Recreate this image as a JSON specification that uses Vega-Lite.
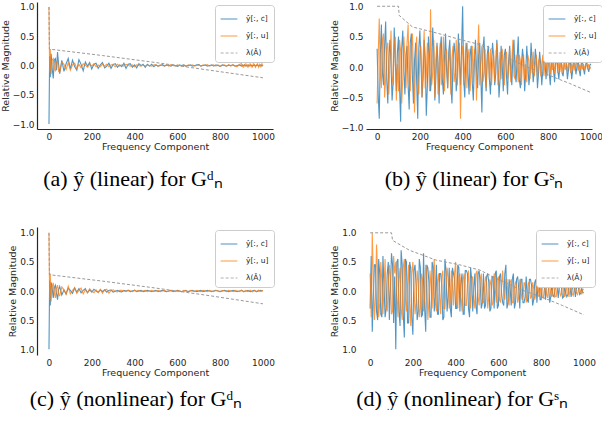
{
  "$schema": "https://vega.github.io/schema/vega-lite/v6.json",
  "background": "white",
  "padding": {"left": 0, "top": 2, "right": 0, "bottom": 0},
  "datasets": {
    "a": [
      {"x":0,"c":-1.0,"u":1.0},{"x":3,"c":0.16,"u":-0.12},{"x":6,"c":-0.2,"u":0.28},{"x":10,"c":0.2,"u":-0.15},
      {"x":15,"c":-0.05,"u":0.1},{"x":20,"c":-0.22,"u":0.12},{"x":25,"c":0.1,"u":-0.05},{"x":30,"c":0.12,"u":-0.1},
      {"x":35,"c":-0.08,"u":0.06},{"x":40,"c":0.23,"u":0.08},{"x":45,"c":0.02,"u":-0.1},{"x":50,"c":-0.14,"u":-0.12},
      {"x":60,"c":0.09,"u":0.06},{"x":70,"c":-0.1,"u":0.02},{"x":80,"c":0.03,"u":-0.07},{"x":90,"c":0.12,"u":0.05},
      {"x":100,"c":-0.06,"u":-0.08},{"x":110,"c":0.09,"u":0.01},{"x":120,"c":-0.02,"u":0.04},{"x":130,"c":-0.08,"u":-0.05},
      {"x":140,"c":0.1,"u":0.02},{"x":150,"c":0.02,"u":-0.04},{"x":160,"c":-0.09,"u":0.03},{"x":170,"c":0.06,"u":0.01},
      {"x":180,"c":-0.01,"u":-0.03},{"x":190,"c":0.05,"u":0.02},{"x":200,"c":-0.06,"u":-0.01},{"x":210,"c":0.02,"u":0.03},
      {"x":220,"c":0.04,"u":-0.02},{"x":230,"c":-0.05,"u":0.01},{"x":240,"c":0.01,"u":-0.02},{"x":250,"c":0.05,"u":0.02},
      {"x":260,"c":-0.04,"u":-0.01},{"x":270,"c":-0.01,"u":0.02},{"x":280,"c":0.04,"u":-0.02},{"x":290,"c":-0.05,"u":0.01},
      {"x":300,"c":0.02,"u":0.01},{"x":310,"c":0.03,"u":-0.02},{"x":320,"c":-0.03,"u":0.02},{"x":330,"c":0.01,"u":-0.01},
      {"x":340,"c":-0.02,"u":0.01},{"x":350,"c":0.04,"u":-0.01},{"x":360,"c":-0.05,"u":0.02},{"x":370,"c":0.02,"u":0.0},
      {"x":380,"c":0.03,"u":-0.01},{"x":390,"c":-0.03,"u":0.01},{"x":400,"c":0.01,"u":-0.02},{"x":410,"c":-0.04,"u":0.01},
      {"x":420,"c":0.03,"u":0.0},{"x":430,"c":0.0,"u":-0.01},{"x":440,"c":0.02,"u":0.01},{"x":450,"c":-0.03,"u":-0.01},
      {"x":460,"c":0.02,"u":0.01},{"x":470,"c":-0.01,"u":0.0},{"x":480,"c":0.02,"u":-0.01},{"x":490,"c":-0.02,"u":0.01},
      {"x":500,"c":0.01,"u":0.01},{"x":510,"c":-0.01,"u":-0.01},{"x":520,"c":0.0,"u":0.01},{"x":530,"c":0.015,"u":0.0},
      {"x":540,"c":-0.01,"u":-0.01},{"x":550,"c":0.01,"u":0.01},{"x":560,"c":0.0,"u":-0.01},{"x":570,"c":-0.01,"u":0.015},
      {"x":580,"c":0.01,"u":0.0},{"x":590,"c":0.0,"u":-0.01},{"x":600,"c":-0.015,"u":0.01},{"x":610,"c":0.01,"u":0.0},
      {"x":620,"c":0.0,"u":-0.01},{"x":630,"c":0.01,"u":0.01},{"x":640,"c":-0.01,"u":-0.015},{"x":650,"c":0.0,"u":0.01},
      {"x":660,"c":0.01,"u":0.0},{"x":670,"c":-0.01,"u":0.01},{"x":680,"c":0.0,"u":-0.01},{"x":690,"c":0.01,"u":0.0},
      {"x":700,"c":0.015,"u":0.01},{"x":710,"c":-0.01,"u":-0.01},{"x":720,"c":0.0,"u":0.01},{"x":730,"c":0.01,"u":0.0},
      {"x":740,"c":-0.01,"u":0.015},{"x":750,"c":0.0,"u":-0.01},{"x":760,"c":0.01,"u":0.0},{"x":770,"c":-0.01,"u":0.01},
      {"x":780,"c":0.01,"u":-0.01},{"x":790,"c":0.0,"u":0.01},{"x":800,"c":-0.015,"u":-0.015},{"x":810,"c":0.01,"u":0.0},
      {"x":820,"c":0.0,"u":0.01},{"x":830,"c":-0.01,"u":-0.01},{"x":840,"c":0.01,"u":0.01},{"x":850,"c":0.0,"u":-0.01},
      {"x":860,"c":0.01,"u":0.015},{"x":870,"c":-0.01,"u":-0.01},{"x":880,"c":0.0,"u":-0.02},{"x":890,"c":0.01,"u":0.02},
      {"x":900,"c":-0.01,"u":0.03},{"x":905,"c":0.01,"u":-0.02},{"x":910,"c":0.0,"u":-0.03},{"x":915,"c":0.01,"u":0.02},
      {"x":920,"c":-0.01,"u":0.03},{"x":925,"c":0.0,"u":-0.01},{"x":930,"c":0.01,"u":-0.03},{"x":935,"c":-0.01,"u":0.02},
      {"x":940,"c":0.0,"u":0.03},{"x":945,"c":0.01,"u":-0.02},{"x":950,"c":-0.01,"u":-0.03},{"x":955,"c":0.0,"u":0.03},
      {"x":960,"c":0.01,"u":0.02},{"x":965,"c":-0.01,"u":-0.03},{"x":970,"c":0.0,"u":0.01},{"x":975,"c":0.01,"u":0.03},
      {"x":980,"c":-0.01,"u":-0.03},{"x":985,"c":0.0,"u":0.02},{"x":990,"c":0.01,"u":-0.02},{"x":995,"c":-0.01,"u":0.03},
      {"x":1000,"c":0.0,"u":-0.01}
    ],
    "b": [
      {"x":0,"c":0.3,"u":-0.6},{"x":5,"c":-0.45,"u":0.2},{"x":10,"c":-0.85,"u":0.8},{"x":15,"c":0.2,"u":-0.1},
      {"x":20,"c":0.7,"u":-0.35},{"x":25,"c":-0.1,"u":0.45},{"x":30,"c":-0.3,"u":0.55},{"x":35,"c":0.35,"u":-0.5},
      {"x":40,"c":0.75,"u":-0.2},{"x":45,"c":-0.2,"u":0.3},{"x":50,"c":-0.6,"u":0.4},{"x":55,"c":0.15,"u":-0.45},
      {"x":60,"c":0.45,"u":0.1},{"x":65,"c":0.05,"u":0.6},{"x":70,"c":-0.55,"u":-0.15},{"x":75,"c":-0.25,"u":-0.3},
      {"x":80,"c":0.65,"u":0.35},{"x":85,"c":0.1,"u":0.5},{"x":90,"c":-0.4,"u":-0.55},{"x":95,"c":0.25,"u":0.05},
      {"x":100,"c":0.5,"u":-0.4},{"x":105,"c":-0.35,"u":0.45},{"x":110,"c":-0.9,"u":0.25},{"x":115,"c":0.3,"u":-0.6},
      {"x":120,"c":0.6,"u":-0.2},{"x":125,"c":-0.05,"u":0.5},{"x":130,"c":-0.45,"u":0.15},{"x":135,"c":0.2,"u":-0.35},
      {"x":140,"c":0.35,"u":0.4},{"x":145,"c":-0.3,"u":0.7},{"x":150,"c":-0.7,"u":-0.25},{"x":155,"c":0.4,"u":-0.4},
      {"x":160,"c":0.55,"u":0.3},{"x":165,"c":-0.15,"u":0.55},{"x":170,"c":-0.6,"u":-0.1},{"x":175,"c":0.1,"u":-0.75},
      {"x":180,"c":0.4,"u":0.2},{"x":185,"c":-0.25,"u":0.5},{"x":190,"c":-0.85,"u":-0.3},{"x":195,"c":0.3,"u":-0.45},
      {"x":200,"c":0.6,"u":0.25},{"x":205,"c":0.1,"u":0.35},{"x":210,"c":-0.5,"u":-0.5},{"x":215,"c":-0.2,"u":0.1},
      {"x":220,"c":0.45,"u":0.6},{"x":225,"c":0.15,"u":-0.35},{"x":230,"c":-0.8,"u":-0.15},{"x":235,"c":-0.3,"u":0.4},
      {"x":240,"c":0.5,"u":0.2},{"x":245,"c":0.2,"u":-0.4},{"x":250,"c":-0.4,"u":0.95},{"x":255,"c":-0.1,"u":-0.3},
      {"x":260,"c":0.65,"u":-0.1},{"x":265,"c":0.25,"u":0.45},{"x":270,"c":-0.55,"u":-0.5},{"x":275,"c":-0.15,"u":0.15},
      {"x":280,"c":0.4,"u":0.35},{"x":285,"c":0.05,"u":-0.45},{"x":290,"c":-0.6,"u":0.05},{"x":295,"c":0.3,"u":0.4},
      {"x":300,"c":0.5,"u":-0.3},{"x":305,"c":-0.2,"u":-0.1},{"x":310,"c":-0.45,"u":0.5},{"x":315,"c":0.15,"u":-0.4},
      {"x":320,"c":0.55,"u":0.2},{"x":325,"c":-0.05,"u":0.3},{"x":330,"c":-0.35,"u":-0.35},{"x":335,"c":0.25,"u":0.1},
      {"x":340,"c":0.45,"u":0.3},{"x":345,"c":-0.3,"u":-0.45},{"x":350,"c":-0.6,"u":0.15},{"x":355,"c":0.1,"u":0.35},
      {"x":360,"c":0.4,"u":-0.25},{"x":365,"c":0.2,"u":-0.1},{"x":370,"c":-0.4,"u":0.45},{"x":375,"c":-0.15,"u":-0.3},
      {"x":380,"c":0.55,"u":0.1},{"x":385,"c":0.1,"u":0.4},{"x":390,"c":-0.3,"u":-0.85},{"x":395,"c":0.3,"u":0.2},
      {"x":400,"c":1.0,"u":0.35},{"x":405,"c":-0.2,"u":-0.3},{"x":410,"c":-0.5,"u":0.05},{"x":415,"c":0.25,"u":0.4},
      {"x":420,"c":0.4,"u":-0.35},{"x":425,"c":-0.1,"u":0.15},{"x":430,"c":-0.45,"u":0.3},{"x":435,"c":0.2,"u":-0.4},
      {"x":440,"c":0.35,"u":-0.05},{"x":445,"c":-0.25,"u":0.35},{"x":450,"c":-0.55,"u":-0.25},{"x":455,"c":0.1,"u":0.3},
      {"x":460,"c":0.45,"u":0.1},{"x":465,"c":-0.05,"u":-0.55},{"x":470,"c":-0.35,"u":0.2},{"x":475,"c":0.2,"u":0.7},
      {"x":480,"c":0.4,"u":-0.3},{"x":485,"c":-0.15,"u":0.05},{"x":490,"c":-0.75,"u":0.35},{"x":495,"c":0.3,"u":-0.25},
      {"x":500,"c":0.5,"u":-0.1},{"x":505,"c":-0.1,"u":0.3},{"x":510,"c":-0.4,"u":-0.35},{"x":515,"c":0.2,"u":0.1},
      {"x":520,"c":0.35,"u":0.25},{"x":525,"c":-0.2,"u":-0.2},{"x":530,"c":-0.45,"u":0.3},{"x":535,"c":0.05,"u":-0.3},
      {"x":540,"c":0.4,"u":0.05},{"x":545,"c":0.15,"u":0.25},{"x":550,"c":-0.3,"u":-0.25},{"x":555,"c":-0.1,"u":0.15},
      {"x":560,"c":0.45,"u":0.4},{"x":565,"c":0.1,"u":-0.3},{"x":570,"c":-0.5,"u":-0.05},{"x":575,"c":-0.2,"u":0.25},
      {"x":580,"c":0.35,"u":-0.2},{"x":585,"c":0.05,"u":0.3},{"x":590,"c":-0.4,"u":0.1},{"x":595,"c":0.2,"u":-0.3},
      {"x":600,"c":0.3,"u":0.2},{"x":605,"c":-0.15,"u":0.25},{"x":610,"c":-0.45,"u":-0.2},{"x":615,"c":0.1,"u":-0.05},
      {"x":620,"c":0.35,"u":0.3},{"x":625,"c":-0.05,"u":-0.25},{"x":630,"c":-0.3,"u":0.1},{"x":635,"c":0.2,"u":0.45},
      {"x":640,"c":0.45,"u":-0.15},{"x":645,"c":-0.1,"u":-0.2},{"x":650,"c":-0.25,"u":0.2},{"x":655,"c":0.15,"u":0.05},
      {"x":660,"c":0.5,"u":-0.25},{"x":665,"c":-0.2,"u":0.2},{"x":670,"c":-0.35,"u":0.1},{"x":675,"c":0.05,"u":-0.3},
      {"x":680,"c":0.3,"u":0.15},{"x":685,"c":0.1,"u":0.2},{"x":690,"c":-0.4,"u":-0.2},{"x":695,"c":-0.1,"u":0.05},
      {"x":700,"c":0.35,"u":-0.25},{"x":705,"c":0.05,"u":0.2},{"x":710,"c":-0.3,"u":0.1},{"x":715,"c":-0.1,"u":-0.2},
      {"x":720,"c":0.4,"u":0.15},{"x":725,"c":0.1,"u":-0.1},{"x":730,"c":-0.25,"u":0.25},{"x":735,"c":-0.05,"u":-0.15},
      {"x":740,"c":0.3,"u":0.05},{"x":745,"c":0.1,"u":0.2},{"x":750,"c":-0.35,"u":-0.18},{"x":755,"c":-0.1,"u":0.1},
      {"x":760,"c":0.25,"u":0.15},{"x":765,"c":0.05,"u":-0.15},{"x":770,"c":-0.3,"u":0.05},{"x":775,"c":-0.05,"u":0.2},
      {"x":780,"c":0.3,"u":-0.15},{"x":785,"c":0.1,"u":0.08},{"x":790,"c":-0.2,"u":0.12},{"x":795,"c":0.05,"u":-0.15},
      {"x":800,"c":0.25,"u":0.05},{"x":805,"c":-0.1,"u":0.12},{"x":810,"c":-0.3,"u":-0.12},{"x":815,"c":0.05,"u":0.1},
      {"x":820,"c":0.2,"u":-0.05},{"x":825,"c":-0.05,"u":0.15},{"x":830,"c":-0.25,"u":-0.1},{"x":835,"c":0.1,"u":0.05},
      {"x":840,"c":0.3,"u":0.12},{"x":845,"c":-0.05,"u":-0.1},{"x":850,"c":-0.2,"u":0.08},{"x":855,"c":0.05,"u":-0.08},
      {"x":860,"c":0.2,"u":0.1},{"x":865,"c":-0.1,"u":0.03},{"x":870,"c":-0.15,"u":-0.1},{"x":875,"c":0.05,"u":0.08},
      {"x":880,"c":0.2,"u":-0.05},{"x":885,"c":0.05,"u":0.1},{"x":890,"c":-0.2,"u":-0.08},{"x":895,"c":-0.05,"u":0.05},
      {"x":900,"c":0.15,"u":0.08},{"x":905,"c":0.05,"u":-0.1},{"x":910,"c":-0.2,"u":0.06},{"x":915,"c":-0.05,"u":-0.05},
      {"x":920,"c":0.18,"u":0.08},{"x":925,"c":0.05,"u":-0.06},{"x":930,"c":-0.12,"u":0.05},{"x":935,"c":0.02,"u":0.07},
      {"x":940,"c":0.15,"u":-0.06},{"x":945,"c":-0.05,"u":0.04},{"x":950,"c":-0.15,"u":-0.05},{"x":955,"c":0.05,"u":0.06},
      {"x":960,"c":0.1,"u":-0.04},{"x":965,"c":-0.03,"u":0.05},{"x":970,"c":-0.12,"u":-0.05},{"x":975,"c":0.03,"u":0.04},
      {"x":980,"c":0.1,"u":0.03},{"x":985,"c":-0.02,"u":-0.04},{"x":990,"c":-0.08,"u":0.05},{"x":995,"c":0.03,"u":-0.03},
      {"x":1000,"c":0.05,"u":0.0}
    ],
    "c": [
      {"x":0,"c":-1.0,"u":1.0},{"x":3,"c":0.18,"u":-0.15},{"x":6,"c":-0.25,"u":0.3},{"x":10,"c":0.15,"u":-0.18},
      {"x":15,"c":0.05,"u":0.08},{"x":20,"c":-0.12,"u":0.14},{"x":25,"c":0.06,"u":-0.04},{"x":30,"c":0.1,"u":-0.12},
      {"x":35,"c":-0.04,"u":0.05},{"x":40,"c":-0.15,"u":0.1},{"x":45,"c":0.03,"u":-0.06},{"x":50,"c":0.08,"u":-0.08},
      {"x":60,"c":-0.07,"u":0.07},{"x":70,"c":0.02,"u":0.02},{"x":80,"c":-0.05,"u":-0.06},{"x":90,"c":0.05,"u":0.08},
      {"x":100,"c":0.01,"u":-0.05},{"x":110,"c":-0.04,"u":0.01},{"x":120,"c":0.05,"u":0.06},{"x":130,"c":-0.02,"u":-0.04},
      {"x":140,"c":0.04,"u":0.01},{"x":150,"c":-0.03,"u":0.05},{"x":160,"c":0.01,"u":-0.05},{"x":170,"c":0.04,"u":0.02},
      {"x":180,"c":-0.03,"u":-0.03},{"x":190,"c":0.02,"u":0.04},{"x":200,"c":-0.02,"u":0.0},{"x":210,"c":0.03,"u":-0.03},
      {"x":220,"c":0.0,"u":0.02},{"x":230,"c":-0.02,"u":-0.03},{"x":240,"c":0.02,"u":0.03},{"x":250,"c":-0.01,"u":-0.04},
      {"x":260,"c":0.02,"u":0.02},{"x":270,"c":-0.02,"u":0.03},{"x":280,"c":0.01,"u":-0.04},{"x":290,"c":0.02,"u":0.01},
      {"x":300,"c":-0.02,"u":0.02},{"x":310,"c":0.0,"u":-0.01},{"x":320,"c":0.01,"u":-0.015},{"x":330,"c":-0.01,"u":0.01},
      {"x":340,"c":-0.015,"u":0.01},{"x":350,"c":0.01,"u":0.0},{"x":360,"c":0.0,"u":-0.01},{"x":370,"c":0.01,"u":0.015},
      {"x":380,"c":-0.01,"u":0.0},{"x":390,"c":0.0,"u":-0.01},{"x":400,"c":0.015,"u":0.01},{"x":410,"c":-0.01,"u":0.0},
      {"x":420,"c":0.0,"u":0.01},{"x":430,"c":0.01,"u":-0.01},{"x":440,"c":-0.01,"u":0.0},{"x":450,"c":0.0,"u":0.01},
      {"x":460,"c":0.01,"u":-0.01},{"x":470,"c":0.0,"u":0.0},{"x":480,"c":-0.01,"u":0.01},{"x":490,"c":0.0,"u":-0.01},
      {"x":500,"c":0.01,"u":0.0},{"x":510,"c":-0.01,"u":0.01},{"x":520,"c":0.0,"u":-0.01},{"x":530,"c":0.01,"u":0.0},
      {"x":540,"c":0.0,"u":0.01},{"x":550,"c":-0.01,"u":-0.01},{"x":560,"c":0.0,"u":0.0},{"x":570,"c":0.01,"u":0.01},
      {"x":580,"c":-0.01,"u":0.0},{"x":590,"c":0.0,"u":-0.01},{"x":600,"c":0.01,"u":0.01},{"x":610,"c":0.0,"u":0.0},
      {"x":620,"c":-0.01,"u":-0.01},{"x":630,"c":0.0,"u":0.01},{"x":640,"c":0.01,"u":0.0},{"x":650,"c":-0.01,"u":-0.01},
      {"x":660,"c":0.0,"u":0.01},{"x":670,"c":0.01,"u":0.0},{"x":680,"c":0.0,"u":-0.01},{"x":690,"c":-0.01,"u":0.01},
      {"x":700,"c":0.0,"u":0.0},{"x":710,"c":0.01,"u":-0.01},{"x":720,"c":-0.01,"u":0.01},{"x":730,"c":0.0,"u":0.0},
      {"x":740,"c":0.01,"u":-0.01},{"x":750,"c":0.0,"u":0.01},{"x":760,"c":-0.01,"u":0.0},{"x":770,"c":0.0,"u":-0.01},
      {"x":780,"c":0.01,"u":0.01},{"x":790,"c":0.0,"u":0.0},{"x":800,"c":-0.01,"u":-0.01},{"x":810,"c":0.0,"u":0.01},
      {"x":820,"c":0.01,"u":0.0},{"x":830,"c":0.0,"u":-0.01},{"x":840,"c":-0.01,"u":0.01},{"x":850,"c":0.0,"u":0.0},
      {"x":860,"c":0.01,"u":-0.01},{"x":870,"c":0.0,"u":0.01},{"x":880,"c":-0.01,"u":0.0},{"x":890,"c":0.0,"u":-0.01},
      {"x":900,"c":0.01,"u":0.015},{"x":910,"c":-0.01,"u":-0.015},{"x":920,"c":0.0,"u":0.01},{"x":930,"c":0.01,"u":-0.01},
      {"x":940,"c":-0.01,"u":0.015},{"x":950,"c":0.0,"u":-0.015},{"x":960,"c":0.01,"u":0.01},{"x":970,"c":-0.01,"u":-0.01},
      {"x":980,"c":0.0,"u":0.015},{"x":990,"c":0.01,"u":-0.01},{"x":1000,"c":0.0,"u":0.01}
    ],
    "d": [
      {"x":0,"c":-0.3,"u":0.3},{"x":5,"c":0.6,"u":-0.45},{"x":10,"c":-0.7,"u":1.0},{"x":15,"c":-0.1,"u":0.2},
      {"x":20,"c":0.45,"u":-0.5},{"x":25,"c":0.45,"u":-0.1},{"x":30,"c":-0.35,"u":0.8},{"x":35,"c":-0.5,"u":0.35},
      {"x":40,"c":0.55,"u":-0.45},{"x":45,"c":0.3,"u":-0.2},{"x":50,"c":-0.4,"u":0.5},{"x":55,"c":-0.45,"u":0.15},
      {"x":60,"c":0.6,"u":-0.4},{"x":65,"c":0.1,"u":0.05},{"x":70,"c":-0.45,"u":0.55},{"x":75,"c":-0.3,"u":-0.25},
      {"x":80,"c":0.3,"u":-0.35},{"x":85,"c":0.5,"u":0.1},{"x":90,"c":-0.5,"u":0.45},{"x":95,"c":0.05,"u":0.25},
      {"x":100,"c":0.65,"u":-0.4},{"x":105,"c":0.45,"u":-0.35},{"x":110,"c":-0.55,"u":0.6},{"x":115,"c":0.25,"u":0.3},
      {"x":120,"c":-1.0,"u":0.5},{"x":125,"c":0.5,"u":-0.05},{"x":130,"c":0.55,"u":-0.45},{"x":135,"c":-0.35,"u":0.2},
      {"x":140,"c":-0.6,"u":0.4},{"x":145,"c":0.7,"u":-0.3},{"x":150,"c":0.45,"u":-0.5},{"x":155,"c":-0.4,"u":0.4},
      {"x":160,"c":-0.8,"u":0.55},{"x":165,"c":0.55,"u":-0.15},{"x":170,"c":0.5,"u":-0.35},{"x":175,"c":-0.55,"u":0.1},
      {"x":180,"c":-0.55,"u":0.45},{"x":185,"c":0.5,"u":-0.25},{"x":190,"c":0.4,"u":-0.6},{"x":195,"c":-0.45,"u":0.3},
      {"x":200,"c":-0.75,"u":0.5},{"x":205,"c":0.35,"u":0.1},{"x":210,"c":0.45,"u":-0.4},{"x":215,"c":0.1,"u":-0.2},
      {"x":220,"c":-0.5,"u":0.35},{"x":225,"c":-0.35,"u":0.15},{"x":230,"c":0.55,"u":-0.45},{"x":235,"c":0.4,"u":-0.3},
      {"x":240,"c":-0.45,"u":0.3},{"x":245,"c":-0.4,"u":0.2},{"x":250,"c":0.65,"u":-0.35},{"x":255,"c":-0.3,"u":-0.1},
      {"x":260,"c":-0.7,"u":0.45},{"x":265,"c":0.45,"u":0.25},{"x":270,"c":0.4,"u":-0.5},{"x":275,"c":0.15,"u":-0.15},
      {"x":280,"c":-0.45,"u":0.35},{"x":285,"c":-0.45,"u":0.05},{"x":290,"c":0.5,"u":-0.3},{"x":295,"c":0.4,"u":0.3},
      {"x":300,"c":-0.35,"u":0.55},{"x":305,"c":-0.1,"u":-0.2},{"x":310,"c":0.45,"u":-0.35},{"x":315,"c":-0.4,"u":0.15},
      {"x":320,"c":-0.4,"u":0.3},{"x":325,"c":0.3,"u":-0.05},{"x":330,"c":0.3,"u":-0.4},{"x":335,"c":0.1,"u":0.25},
      {"x":340,"c":-0.5,"u":0.35},{"x":345,"c":-0.45,"u":-0.3},{"x":350,"c":0.55,"u":-0.3},{"x":355,"c":0.35,"u":0.1},
      {"x":360,"c":-0.35,"u":0.4},{"x":365,"c":-0.1,"u":0.2},{"x":370,"c":0.4,"u":-0.3},{"x":375,"c":-0.3,"u":-0.15},
      {"x":380,"c":-0.45,"u":0.35},{"x":385,"c":0.4,"u":0.1},{"x":390,"c":0.3,"u":-0.25},{"x":395,"c":0.2,"u":0.3},
      {"x":400,"c":-0.3,"u":0.5},{"x":405,"c":-0.3,"u":-0.2},{"x":410,"c":0.45,"u":-0.3},{"x":415,"c":0.4,"u":0.25},
      {"x":420,"c":-0.35,"u":0.3},{"x":425,"c":0.15,"u":-0.1},{"x":430,"c":0.3,"u":-0.35},{"x":435,"c":-0.4,"u":0.2},
      {"x":440,"c":-0.4,"u":0.3},{"x":445,"c":0.35,"u":-0.25},{"x":450,"c":0.35,"u":-0.25},{"x":455,"c":0.3,"u":0.1},
      {"x":460,"c":-0.3,"u":0.35},{"x":465,"c":-0.45,"u":-0.05},{"x":470,"c":0.4,"u":-0.3},{"x":475,"c":0.2,"u":0.2},
      {"x":480,"c":-0.35,"u":0.25},{"x":485,"c":0.05,"u":-0.15},{"x":490,"c":0.3,"u":-0.3},{"x":495,"c":-0.25,"u":0.3},
      {"x":500,"c":-0.4,"u":0.35},{"x":505,"c":0.3,"u":-0.1},{"x":510,"c":0.35,"u":-0.25},{"x":515,"c":0.1,"u":0.2},
      {"x":520,"c":-0.3,"u":0.3},{"x":525,"c":-0.2,"u":-0.2},{"x":530,"c":0.3,"u":-0.2},{"x":535,"c":-0.3,"u":0.05},
      {"x":540,"c":-0.25,"u":0.25},{"x":545,"c":0.25,"u":0.15},{"x":550,"c":0.3,"u":-0.3},{"x":555,"c":0.15,"u":-0.1},
      {"x":560,"c":-0.35,"u":0.2},{"x":565,"c":-0.3,"u":0.1},{"x":570,"c":0.25,"u":-0.25},{"x":575,"c":0.25,"u":-0.2},
      {"x":580,"c":-0.3,"u":0.3},{"x":585,"c":0.3,"u":0.05},{"x":590,"c":0.35,"u":-0.2},{"x":595,"c":-0.3,"u":0.2},
      {"x":600,"c":-0.25,"u":0.25},{"x":605,"c":0.25,"u":-0.15},{"x":610,"c":0.3,"u":-0.2},{"x":615,"c":-0.05,"u":0.1},
      {"x":620,"c":-0.2,"u":0.35},{"x":625,"c":-0.25,"u":-0.05},{"x":630,"c":0.3,"u":-0.15},{"x":635,"c":0.45,"u":0.2},
      {"x":640,"c":-0.3,"u":0.2},{"x":645,"c":-0.2,"u":-0.1},{"x":650,"c":0.2,"u":-0.25},{"x":655,"c":0.05,"u":0.15},
      {"x":660,"c":-0.25,"u":0.2},{"x":665,"c":0.2,"u":-0.2},{"x":670,"c":0.3,"u":-0.2},{"x":675,"c":-0.3,"u":0.05},
      {"x":680,"c":-0.2,"u":0.15},{"x":685,"c":0.2,"u":0.1},{"x":690,"c":0.25,"u":-0.2},{"x":695,"c":0.05,"u":-0.1},
      {"x":700,"c":-0.3,"u":0.2},{"x":705,"c":0.2,"u":0.05},{"x":710,"c":0.2,"u":-0.15},{"x":715,"c":-0.2,"u":-0.1},
      {"x":720,"c":-0.2,"u":0.15},{"x":725,"c":-0.1,"u":0.1},{"x":730,"c":0.25,"u":-0.2},{"x":735,"c":-0.15,"u":-0.05},
      {"x":740,"c":-0.2,"u":0.15},{"x":745,"c":0.2,"u":0.1},{"x":750,"c":0.2,"u":-0.12},{"x":755,"c":0.1,"u":-0.1},
      {"x":760,"c":-0.25,"u":0.15},{"x":765,"c":-0.15,"u":0.05},{"x":770,"c":0.15,"u":-0.15},{"x":775,"c":0.2,"u":-0.05},
      {"x":780,"c":-0.2,"u":0.12},{"x":785,"c":0.08,"u":0.1},{"x":790,"c":0.25,"u":-0.1},{"x":795,"c":-0.15,"u":-0.05},
      {"x":800,"c":-0.15,"u":0.15},{"x":805,"c":0.12,"u":-0.1},{"x":810,"c":0.2,"u":-0.12},{"x":815,"c":0.1,"u":0.05},
      {"x":820,"c":-0.15,"u":0.1},{"x":825,"c":0.15,"u":-0.05},{"x":830,"c":0.15,"u":-0.12},{"x":835,"c":0.05,"u":0.1},
      {"x":840,"c":-0.2,"u":0.1},{"x":845,"c":-0.1,"u":-0.05},{"x":850,"c":0.15,"u":-0.1},{"x":855,"c":-0.08,"u":0.05},
      {"x":860,"c":-0.1,"u":0.12},{"x":865,"c":0.03,"u":-0.1},{"x":870,"c":0.15,"u":-0.1},{"x":875,"c":0.08,"u":0.05},
      {"x":880,"c":-0.12,"u":0.1},{"x":885,"c":0.1,"u":0.05},{"x":890,"c":0.1,"u":-0.08},{"x":895,"c":0.05,"u":-0.05},
      {"x":900,"c":-0.12,"u":0.1},{"x":905,"c":-0.1,"u":0.05},{"x":910,"c":0.1,"u":-0.1},{"x":915,"c":-0.05,"u":-0.05},
      {"x":920,"c":-0.1,"u":0.08},{"x":925,"c":-0.06,"u":0.05},{"x":930,"c":0.12,"u":-0.1},{"x":935,"c":0.07,"u":0.02},
      {"x":940,"c":-0.1,"u":0.08},{"x":945,"c":0.04,"u":-0.05},{"x":950,"c":0.08,"u":-0.08},{"x":955,"c":0.06,"u":0.05},
      {"x":960,"c":-0.1,"u":0.06},{"x":965,"c":0.05,"u":-0.03},{"x":970,"c":0.08,"u":-0.06},{"x":975,"c":0.04,"u":0.03},
      {"x":980,"c":-0.06,"u":0.05},{"x":985,"c":-0.04,"u":-0.02},{"x":990,"c":0.05,"u":-0.05},{"x":995,"c":-0.03,"u":0.03},
      {"x":1000,"c":-0.03,"u":0.03}
    ],
    "la": [
      {"x":0,"l":1.0},{"x":2,"l":0.28},{"x":250,"l":0.17},{"x":500,"l":0.05},{"x":750,"l":-0.08},{"x":1000,"l":-0.21}
    ],
    "lc": [
      {"x":0,"l":1.0},{"x":2,"l":0.28},{"x":250,"l":0.17},{"x":500,"l":0.05},{"x":750,"l":-0.08},{"x":1000,"l":-0.22}
    ],
    "lb": [
      {"x":0,"l":1.0},{"x":100,"l":1.0},{"x":103,"l":0.85},{"x":165,"l":0.66},{"x":278,"l":0.56},{"x":401,"l":0.44},
      {"x":514,"l":0.34},{"x":600,"l":0.17},{"x":700,"l":0.0},{"x":800,"l":-0.13},{"x":900,"l":-0.27},{"x":1000,"l":-0.42}
    ],
    "ld": [
      {"x":0,"l":1.0},{"x":100,"l":1.0},{"x":105,"l":0.87},{"x":184,"l":0.7},{"x":309,"l":0.53},{"x":419,"l":0.45},
      {"x":513,"l":0.36},{"x":600,"l":0.2},{"x":700,"l":0.03},{"x":800,"l":-0.1},{"x":900,"l":-0.25},{"x":1000,"l":-0.41}
    ]
  },
  "vconcat": [
    {
      "hconcat": [
        {
          "width": 236, "height": 127,
          "title": {"text": "(a) ŷ (linear) for Gᵈₙ", "orient": "bottom", "frame": "group", "dx": -22, "offset": 18},
          "encoding": {
            "x": {"field": "x", "type": "quantitative", "scale": {"domain": [-56, 1047], "nice": false, "zero": false}, "axis": {"title": "Frequency Component", "values": [0, 200, 400, 600, 800, 1000], "tickCount": 6, "format": "d"}},
            "y": {"field": "v", "type": "quantitative", "scale": {"domain": [-1.085, 1.085], "nice": false}, "axis": {"title": "Relative Magnitude", "values": [-1, -0.5, 0, 0.5, 1], "tickCount": 5, "tickMinStep": 0.5, "format": ".1f"}},
            "color": {"field": "s", "type": "nominal", "scale": {"domain": ["c", "u", "l"], "range": ["#1f77b4", "#ff7f0e", "#999999"]}, "legend": {"orient": "none", "legendX": 178, "legendY": 3, "title": null, "labelExpr": "datum.label == 'c' ? 'ŷ[:, c]' : datum.label == 'u' ? 'ŷ[:, u]' : 'λ(Â)'"}},
            "strokeDash": {"field": "s", "type": "nominal", "scale": {"domain": ["c", "u", "l"], "range": [[1, 0], [1, 0], [3, 2]]}, "legend": {"orient": "none", "legendX": 178, "legendY": 3, "title": null, "labelExpr": "datum.label == 'c' ? 'ŷ[:, c]' : datum.label == 'u' ? 'ŷ[:, u]' : 'λ(Â)'"}}
          },
          "layer": [
            {
              "data": {"name": "a"},
              "transform": [{"fold": ["c", "u"], "as": ["s", "v"]}],
              "mark": {"type": "line", "strokeWidth": 1.1, "opacity": 0.78}
            },
            {
              "data": {"name": "la"},
              "transform": [{"fold": ["l"], "as": ["s", "v"]}],
              "mark": {"type": "line", "strokeWidth": 1}
            }
          ]
        },
        {
          "width": 226, "height": 127,
          "title": {"text": "(b) ŷ (linear) for Gˢₙ", "orient": "bottom", "frame": "group", "dx": -5, "offset": 18},
          "encoding": {
            "x": {"field": "x", "type": "quantitative", "scale": {"domain": [-52, 1005], "nice": false, "zero": false}, "axis": {"title": "Frequency Component", "values": [0, 200, 400, 600, 800, 1000], "tickCount": 6, "format": "d"}},
            "y": {"field": "v", "type": "quantitative", "scale": {"domain": [-1.02, 1.07], "nice": false}, "axis": {"title": "Relative Magnitude", "values": [-1, -0.5, 0, 0.5, 1], "tickCount": 5, "tickMinStep": 0.5, "format": ".1f", "domain": false}},
            "color": {"field": "s", "type": "nominal", "scale": {"domain": ["c", "u", "l"], "range": ["#1f77b4", "#ff7f0e", "#999999"]}, "legend": {"orient": "none", "legendX": 177, "legendY": 3, "title": null, "labelExpr": "datum.label == 'c' ? 'ŷ[:, c]' : datum.label == 'u' ? 'ŷ[:, u]' : 'λ(Â)'"}},
            "strokeDash": {"field": "s", "type": "nominal", "scale": {"domain": ["c", "u", "l"], "range": [[1, 0], [1, 0], [3, 2]]}, "legend": {"orient": "none", "legendX": 177, "legendY": 3, "title": null, "labelExpr": "datum.label == 'c' ? 'ŷ[:, c]' : datum.label == 'u' ? 'ŷ[:, u]' : 'λ(Â)'"}}
          },
          "layer": [
            {
              "data": {"name": "b"},
              "transform": [{"fold": ["c", "u"], "as": ["s", "v"]}],
              "mark": {"type": "line", "strokeWidth": 1.1, "opacity": 0.78}
            },
            {
              "data": {"name": "lb"},
              "transform": [{"fold": ["l"], "as": ["s", "v"]}],
              "mark": {"type": "line", "strokeWidth": 1}
            }
          ]
        }
      ],
      "spacing": 54,
      "resolve": {"scale": {"x": "independent", "y": "independent", "color": "independent", "strokeDash": "independent"}, "legend": {"color": "independent", "strokeDash": "independent"}}
    },
    {
      "hconcat": [
        {
          "width": 236, "height": 128,
          "title": {"text": "(c) ŷ (nonlinear) for Gᵈₙ", "orient": "bottom", "frame": "group", "dx": -19, "offset": 12},
          "encoding": {
            "x": {"field": "x", "type": "quantitative", "scale": {"domain": [-56, 1047], "nice": false, "zero": false}, "axis": {"title": "Frequency Component", "values": [0, 200, 400, 600, 800, 1000], "tickCount": 6, "format": "d", "domain": false}},
            "y": {"field": "v", "type": "quantitative", "scale": {"domain": [-1.1, 1.1], "nice": false}, "axis": {"title": "Relative Magnitude", "values": [-1, -0.5, 0, 0.5, 1], "tickCount": 5, "tickMinStep": 0.5, "labelExpr": "format(abs(datum.value), '.1f')"}},
            "color": {"field": "s", "type": "nominal", "scale": {"domain": ["c", "u", "l"], "range": ["#1f77b4", "#ff7f0e", "#999999"]}, "legend": {"orient": "none", "legendX": 178, "legendY": 3, "title": null, "labelExpr": "datum.label == 'c' ? 'ŷ[:, c]' : datum.label == 'u' ? 'ŷ[:, u]' : 'λ(Â)'"}},
            "strokeDash": {"field": "s", "type": "nominal", "scale": {"domain": ["c", "u", "l"], "range": [[1, 0], [1, 0], [3, 2]]}, "legend": {"orient": "none", "legendX": 178, "legendY": 3, "title": null, "labelExpr": "datum.label == 'c' ? 'ŷ[:, c]' : datum.label == 'u' ? 'ŷ[:, u]' : 'λ(Â)'"}}
          },
          "layer": [
            {
              "data": {"name": "c"},
              "transform": [{"fold": ["c", "u"], "as": ["s", "v"]}],
              "mark": {"type": "line", "strokeWidth": 1.1, "opacity": 0.78}
            },
            {
              "data": {"name": "lc"},
              "transform": [{"fold": ["l"], "as": ["s", "v"]}],
              "mark": {"type": "line", "strokeWidth": 1}
            }
          ]
        },
        {
          "width": 226, "height": 128,
          "title": {"text": "(d) ŷ (nonlinear) for Gˢₙ", "orient": "bottom", "frame": "group", "dx": -10, "offset": 12},
          "encoding": {
            "x": {"field": "x", "type": "quantitative", "scale": {"domain": [-52, 1005], "nice": false, "zero": false}, "axis": {"title": "Frequency Component", "values": [0, 200, 400, 600, 800, 1000], "tickCount": 6, "format": "d", "domain": false}},
            "y": {"field": "v", "type": "quantitative", "scale": {"domain": [-1.1, 1.1], "nice": false}, "axis": {"title": "Relative Magnitude", "values": [-1, -0.5, 0, 0.5, 1], "tickCount": 5, "tickMinStep": 0.5, "labelExpr": "format(abs(datum.value), '.1f')", "domain": false}},
            "color": {"field": "s", "type": "nominal", "scale": {"domain": ["c", "u", "l"], "range": ["#1f77b4", "#ff7f0e", "#999999"]}, "legend": {"orient": "none", "legendX": 177, "legendY": 3, "title": null, "labelExpr": "datum.label == 'c' ? 'ŷ[:, c]' : datum.label == 'u' ? 'ŷ[:, u]' : 'λ(Â)'"}},
            "strokeDash": {"field": "s", "type": "nominal", "scale": {"domain": ["c", "u", "l"], "range": [[1, 0], [1, 0], [3, 2]]}, "legend": {"orient": "none", "legendX": 177, "legendY": 3, "title": null, "labelExpr": "datum.label == 'c' ? 'ŷ[:, c]' : datum.label == 'u' ? 'ŷ[:, u]' : 'λ(Â)'"}}
          },
          "layer": [
            {
              "data": {"name": "d"},
              "transform": [{"fold": ["c", "u"], "as": ["s", "v"]}],
              "mark": {"type": "line", "strokeWidth": 1.1, "opacity": 0.78}
            },
            {
              "data": {"name": "ld"},
              "transform": [{"fold": ["l"], "as": ["s", "v"]}],
              "mark": {"type": "line", "strokeWidth": 1}
            }
          ]
        }
      ],
      "spacing": 54,
      "resolve": {"scale": {"x": "independent", "y": "independent", "color": "independent", "strokeDash": "independent"}, "legend": {"color": "independent", "strokeDash": "independent"}}
    }
  ],
  "spacing": 37,
  "resolve": {"scale": {"x": "independent", "y": "independent", "color": "independent", "strokeDash": "independent"}, "legend": {"color": "independent", "strokeDash": "independent"}},
  "config": {
    "view": {"stroke": null},
    "axis": {
      "grid": false, "ticks": false, "labelOverlap": false,
      "labelFont": "DejaVu Sans", "labelFontSize": 9, "labelColor": "#262626", "labelPadding": 3,
      "titleFont": "DejaVu Sans", "titleFontSize": 9.5, "titleFontWeight": "normal", "titleColor": "#262626",
      "domainColor": "#262626", "domainWidth": 1.2
    },
    "axisX": {"titlePadding": 0},
    "axisY": {"titlePadding": 2},
    "title": {"font": "Liberation Serif", "fontSize": 22, "fontWeight": "normal", "color": "black", "anchor": "middle"},
    "legend": {
      "fillColor": "white", "strokeColor": "#cccccc", "cornerRadius": 3, "padding": 5,
      "labelFont": "DejaVu Sans", "labelFontSize": 7.5, "labelColor": "#262626",
      "symbolType": "stroke", "symbolSize": 280, "symbolStrokeWidth": 1.2, "rowPadding": 4, "labelOffset": 8
    }
  }
}
